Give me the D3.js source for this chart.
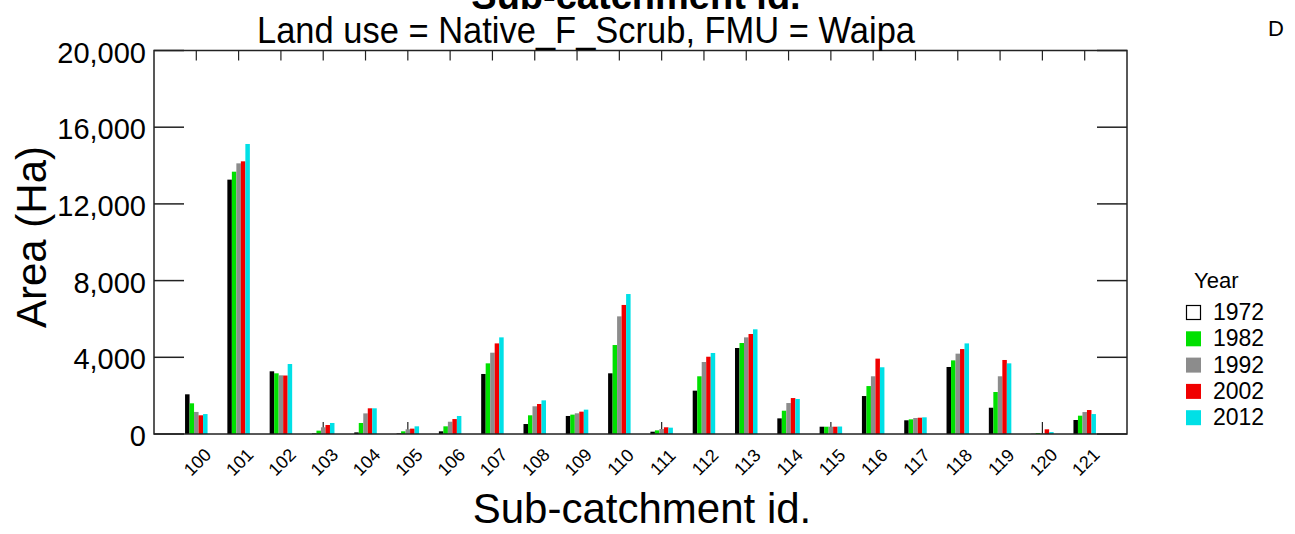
<!DOCTYPE html>
<html><head><meta charset="utf-8">
<script src="https://cdn.jsdelivr.net/npm/d3@7"></script>
<style>body{margin:0;background:#fff}svg{display:block;font-family:"Liberation Sans",Arial,sans-serif}</style>
</head><body><svg id="c" width="1295" height="534"></svg>
<script>
const categories = ["100","101","102","103","104","105","106","107","108","109","110","111","112","113","114","115","116","117","118","119","120","121"];
const years = ["1972","1982","1992","2002","2012"];
const colors = ["#000000","#00e000","#8c8c8c","#f00000","#00e0e6"];
const v1972 = [2070,13265,3270,30,85,30,140,3130,520,940,3165,120,2260,4485,815,380,1980,715,3495,1370,10,730];
const v1982 = [1600,13680,3165,175,575,140,400,3685,975,1010,4640,190,3010,4745,1215,380,2500,765,3840,2190,50,955];
const v1992 = [1150,14115,3060,350,1075,245,640,4240,1445,1080,6135,260,3755,5040,1615,380,3010,835,4190,3010,30,1145];
const v2002 = [975,14220,3050,470,1340,280,780,4725,1565,1165,6730,350,4030,5215,1875,380,3930,850,4430,3860,245,1250];
const v2012 = [1040,15125,3650,575,1340,400,940,5040,1755,1270,7300,330,4225,5460,1825,390,3480,870,4725,3685,100,1040];
const yTicks = [0,4000,8000,12000,16000,20000];
const series = [v1972,v1982,v1992,v2002,v2012];

const svg = d3.select("#c");
const L=154, R=1127, T=50.5, B=434;
const x = d3.scalePoint().domain(categories).range([L,R]).padding(1);
const y = d3.scaleLinear().domain([0,20000]).range([B,T]);
const bw = 4.5;
const xs = d3.scaleBand().domain(years).range([-bw*2.5, bw*2.5]);

// bottom ticks (up) and top ticks (down)
const g = svg.append("g");
g.selectAll(".bt").data(categories).join("line")
  .attr("x1",d=>x(d)).attr("x2",d=>x(d)).attr("y1",B).attr("y2",B-12)
  .attr("stroke","#222").attr("stroke-width",1.2);
g.selectAll(".tt").data(categories).join("line")
  .attr("x1",d=>x(d)).attr("x2",d=>x(d)).attr("y1",T).attr("y2",T+10)
  .attr("stroke","#222").attr("stroke-width",1.2);

// bars
years.forEach((yr,i)=>{
  svg.append("g").selectAll("rect").data(categories).join("rect")
    .attr("x",d=>x(d)+xs(yr)).attr("width",xs.bandwidth())
    .attr("y",(d,j)=>y(series[i][j])).attr("height",(d,j)=>B-y(series[i][j]))
    .attr("fill",colors[i]);
});

// y ticks left & right
svg.append("g").selectAll("line").data(yTicks).join("line")
  .attr("x1",L).attr("x2",L+30).attr("y1",d=>y(d)).attr("y2",d=>y(d))
  .attr("stroke","#222").attr("stroke-width",1.5);
svg.append("g").selectAll("line").data(yTicks).join("line")
  .attr("x1",R-30).attr("x2",R).attr("y1",d=>y(d)).attr("y2",d=>y(d))
  .attr("stroke","#222").attr("stroke-width",1.5);
// frame
svg.append("rect").attr("x",L).attr("y",T).attr("width",R-L).attr("height",B-T)
  .attr("fill","none").attr("stroke","#222").attr("stroke-width",1.5);

// y tick labels
const fmt = d3.format(",");
svg.append("g").selectAll("text").data(yTicks).join("text")
  .attr("x",146).attr("y",d=>y(d)+12).attr("text-anchor","end")
  .attr("font-size",29).text(d=>fmt(d));

// x tick labels
svg.append("g").selectAll("text").data(categories).join("text")
  .attr("transform",d=>`translate(${x(d)+1},${462}) rotate(-45)`)
  .attr("text-anchor","middle").attr("dy","0.35em").attr("font-size",18).text(d=>d);

// axis titles
svg.append("text").attr("x",642).attr("y",523).attr("text-anchor","middle").attr("font-size",42).text("Sub-catchment id.");
svg.append("text").attr("transform","translate(46,237) rotate(-90)").attr("text-anchor","middle").attr("font-size",42).text("Area (Ha)");

// titles
svg.append("text").attr("x",636).attr("y",9).attr("text-anchor","middle").attr("font-size",38).attr("font-weight","bold").text("Sub-catchment id.");
svg.append("text").attr("x",257).attr("y",43).attr("font-size",37).attr("textLength",658).attr("lengthAdjust","spacingAndGlyphs").text("Land use = Native_F_Scrub, FMU = Waipa");
svg.append("text").attr("x",1268).attr("y",36).attr("font-size",22).text("D");

// legend
const lg = svg.append("g");
lg.append("text").attr("x",1194).attr("y",288).attr("font-size",22).text("Year");
years.forEach((yr,i)=>{
  const by = 320 + i*26.3;
  lg.append("rect").attr("x",i===0?1186.5:1186).attr("y",i===0?by-14.5:by-15).attr("width",i===0?14:15).attr("height",i===0?14:15)
    .attr("fill",i===0?"#fff":colors[i]).attr("stroke",i===0?"#000":"none").attr("stroke-width",1.2);
  lg.append("text").attr("x",1213).attr("y",by).attr("font-size",23).text(yr);
});
</script></body></html>
